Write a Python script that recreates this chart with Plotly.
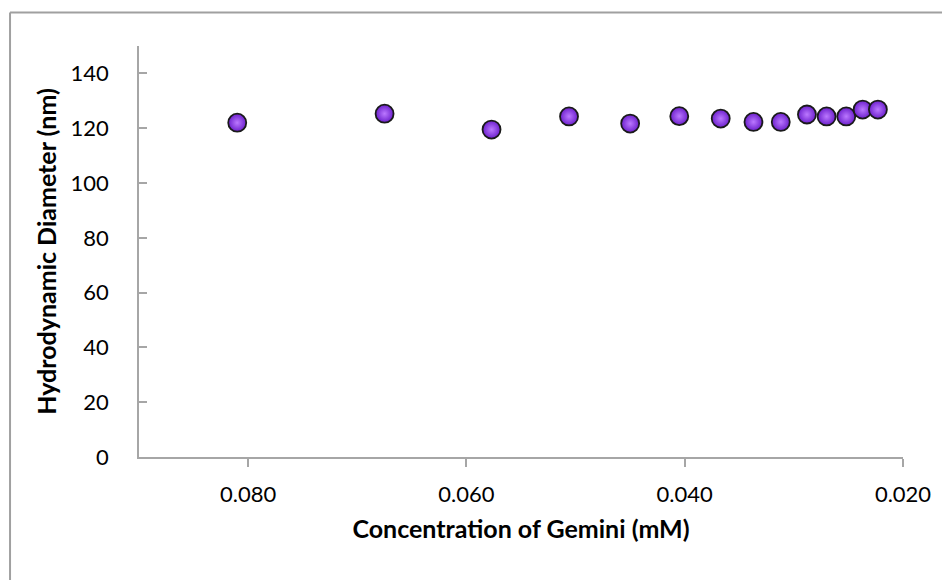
import plotly.graph_objects as go

concentration_mM = [0.0810, 0.0675, 0.0577, 0.0506, 0.0450, 0.0405, 0.0367,
                    0.0337, 0.0312, 0.0288, 0.0270, 0.0252, 0.0237, 0.0223]
diameter_nm = [122.0, 125.3, 119.5, 124.3, 121.7, 124.4, 123.5,
               122.3, 122.3, 125.0, 124.3, 124.3, 126.8, 126.8]
x_ticks = [0.080, 0.060, 0.040, 0.020]
x_tick_labels = ["0.080", "0.060", "0.040", "0.020"]
y_ticks = [0, 20, 40, 60, 80, 100, 120, 140]

FONT = "Lato"
AXIS_COLOR = "#a6a6a6"

fig = go.Figure()
fig.add_trace(go.Scatter(
    x=concentration_mM, y=diameter_nm, mode="markers",
    marker=dict(size=18, color="#6c1fcc",
                gradient=dict(type="radial", color="#bb78ff"),
                line=dict(color="#1a1a1a", width=1.8)),
    showlegend=False, hoverinfo="x+y",
))

fig.update_layout(
    width=942, height=580,
    margin=dict(l=139, r=39, t=45.5, b=122.7),
    paper_bgcolor="white", plot_bgcolor="white",
    font=dict(family=FONT, color="black", size=22),
    xaxis=dict(
        range=[0.090, 0.020], tickvals=x_ticks, ticktext=x_tick_labels,
        showgrid=False, zeroline=False, showline=True, linecolor=AXIS_COLOR,
        linewidth=1.5, ticks="outside", ticklen=8, tickcolor=AXIS_COLOR,
        tickwidth=1.5, tickfont=dict(size=22, family=FONT),
        ticklabelstandoff=9,
        title=dict(text="<b>Concentration of Gemini (mM)</b>",
                   font=dict(size=25, family=FONT), standoff=14),
    ),
    yaxis=dict(
        range=[0, 150], tickvals=y_ticks,
        showgrid=False, zeroline=False, showline=True, linecolor=AXIS_COLOR,
        linewidth=1.5, ticks="inside", ticklen=8, tickcolor=AXIS_COLOR,
        tickwidth=1.5, tickfont=dict(size=22, family=FONT),
        ticklabelstandoff=24,
        title=dict(text="<b>Hydrodynamic Diameter (nm)</b>",
                   font=dict(size=25, family=FONT), standoff=7),
    ),
    shapes=[
        dict(type="line", xref="paper", yref="paper",
             x0=-0.1688, x1=1.2, y0=1.0813, y1=1.0813,
             line=dict(color="#a0a0a0", width=2)),
        dict(type="line", xref="paper", yref="paper",
             x0=-0.1688, x1=-0.1688, y0=1.0813, y1=-0.4,
             line=dict(color="#a0a0a0", width=2)),
    ],
)

fig.write_html("out.html")
